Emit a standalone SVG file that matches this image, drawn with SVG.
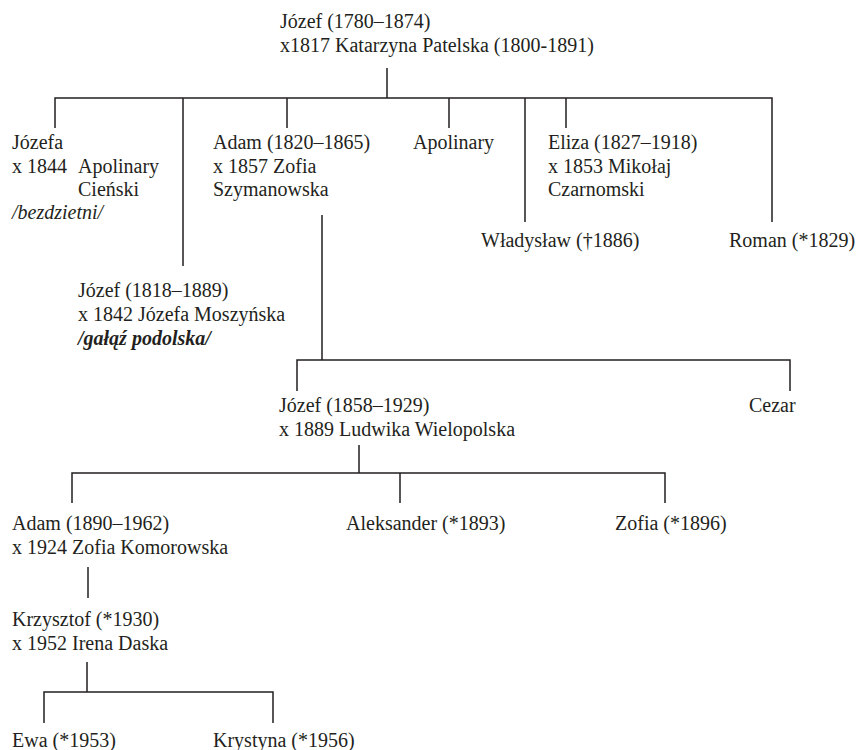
<svg xmlns="http://www.w3.org/2000/svg" width="862" height="750" viewBox="0 0 862 750">
<style>
text{font-family:"Liberation Serif","Times New Roman","DejaVu Serif",serif;font-size:20px;fill:#231f20}
.it{font-style:italic}
.bi{font-style:italic;font-weight:bold}
#connectors path{stroke:#231f20;stroke-width:1.5;fill:none}
</style>
<rect width="862" height="750" fill="#fff"/>
<g id="connectors">
<path d="M387,68V98M55,128V98H772V222M183,98V266M287,98V128M449,98V128M525,98V222M566,98V128"/>
<path d="M322,215V360M297,391V360H790V391"/>
<path d="M359,445V473M72,503V473H665V503M400,473V503"/>
<path d="M88,567V598"/>
<path d="M87,662V692M44,723V692H273V723"/>
</g>
<g id="n-jozef1780"><text x="280" y="28">Józef (1780–1874)</text><text x="280" y="52">x1817 Katarzyna Patelska (1800-1891)</text></g>
<g id="n-jozefa"><text x="12" y="149">Józefa</text><text x="12" y="173">x 1844</text><text x="78" y="173">Apolinary</text><text x="78" y="196">Cieński</text><text class="it" x="12" y="219">/bezdzietni/</text></g>
<g id="n-jozef1818"><text x="78" y="297">Józef (1818–1889)</text><text x="78" y="321">x 1842 Józefa Moszyńska</text><text class="bi" x="78" y="345">/gałąź podolska/</text></g>
<g id="n-adam1820"><text x="213" y="149">Adam (1820–1865)</text><text x="213" y="173">x 1857 Zofia</text><text x="213" y="196">Szymanowska</text></g>
<g id="n-apolinary"><text x="413" y="149">Apolinary</text></g>
<g id="n-eliza"><text x="548" y="149">Eliza (1827–1918)</text><text x="548" y="173">x 1853 Mikołaj</text><text x="548" y="196">Czarnomski</text></g>
<g id="n-wladyslaw"><text x="481" y="247">Władysław (†1886)</text></g>
<g id="n-roman"><text x="729" y="247">Roman (*1829)</text></g>
<g id="n-jozef1858"><text x="279" y="412">Józef (1858–1929)</text><text x="279" y="436">x 1889 Ludwika Wielopolska</text></g>
<g id="n-cezar"><text x="749" y="412">Cezar</text></g>
<g id="n-adam1890"><text x="12" y="530">Adam (1890–1962)</text><text x="12" y="554">x 1924 Zofia Komorowska</text></g>
<g id="n-aleksander"><text x="346" y="530">Aleksander (*1893)</text></g>
<g id="n-zofia"><text x="615" y="530">Zofia (*1896)</text></g>
<g id="n-krzysztof"><text x="12" y="626">Krzysztof (*1930)</text><text x="12" y="650">x 1952 Irena Daska</text></g>
<g id="n-ewa"><text x="12" y="747">Ewa (*1953)</text></g>
<g id="n-krystyna"><text x="213" y="747">Krystyna (*1956)</text></g>
</svg>
